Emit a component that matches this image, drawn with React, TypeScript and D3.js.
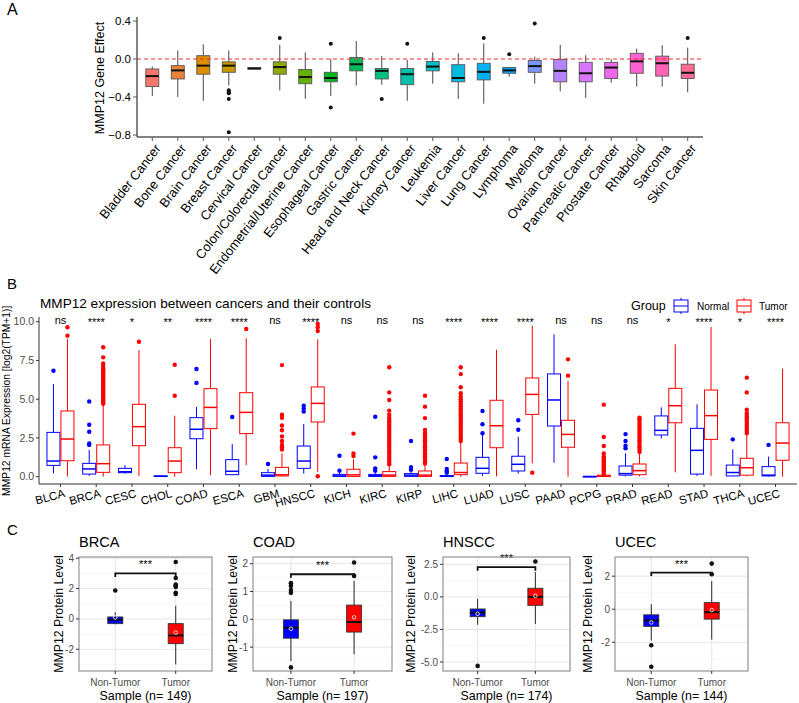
import React from 'react'
import * as d3 from 'd3'

const FONT = '"Liberation Sans", Arial, Helvetica, sans-serif'

// ---------- Panel A: MMP12 gene effect per lineage ----------
const aCancers = [
  'Bladder Cancer', 'Bone Cancer', 'Brain Cancer', 'Breast Cancer', 'Cervical Cancer',
  'Colon/Colorectal Cancer', 'Endometrial/Uterine Cancer', 'Esophageal Cancer', 'Gastric Cancer',
  'Head and Neck Cancer', 'Kidney Cancer', 'Leukemia', 'Liver Cancer', 'Lung Cancer', 'Lymphoma',
  'Myeloma', 'Ovarian Cancer', 'Pancreatic Cancer', 'Prostate Cancer', 'Rhabdoid', 'Sarcoma', 'Skin Cancer',
]
// [lower whisker, q1, median, q3, upper whisker]
const aStats = [
  [-0.39, -0.29, -0.18, -0.105, -0.08],
  [-0.4, -0.21, -0.12, -0.07, 0.09],
  [-0.44, -0.16, -0.07, 0.035, 0.155],
  [-0.28, -0.14, -0.07, -0.03, 0.09],
  [-0.11, -0.105, -0.1, -0.092, -0.085],
  [-0.33, -0.16, -0.085, -0.03, 0.15],
  [-0.42, -0.26, -0.19, -0.11, 0.07],
  [-0.39, -0.24, -0.2, -0.14, 0.0],
  [-0.28, -0.125, -0.055, 0.015, 0.19],
  [-0.27, -0.21, -0.125, -0.1, 0.03],
  [-0.44, -0.27, -0.16, -0.1, -0.01],
  [-0.26, -0.125, -0.08, -0.025, 0.07],
  [-0.42, -0.24, -0.2, -0.06, 0.06],
  [-0.47, -0.22, -0.135, -0.045, 0.165],
  [-0.185, -0.15, -0.12, -0.09, -0.09],
  [-0.26, -0.14, -0.075, -0.015, 0.025],
  [-0.34, -0.24, -0.125, -0.005, 0.15],
  [-0.41, -0.24, -0.15, -0.035, 0.04],
  [-0.25, -0.205, -0.09, -0.035, 0.0],
  [-0.29, -0.15, -0.025, 0.06, 0.11],
  [-0.29, -0.18, -0.045, 0.03, 0.145],
  [-0.35, -0.205, -0.145, -0.055, 0.12],
]
const aOutliers = [
  [], [], [], [-0.33, -0.35, -0.36, -0.42, -0.77], [], [0.22], [], [0.16, -0.51], [], [-0.42],
  [0.16], [], [], [0.22], [0.05], [0.375], [], [], [], [], [], [0.22],
]
const aTicks = [-0.8, -0.4, 0, 0.4]

// ---------- Panel B: TCGA tumour vs normal ----------
const bCancers = [
  'BLCA', 'BRCA', 'CESC', 'CHOL', 'COAD', 'ESCA', 'GBM', 'HNSCC', 'KICH', 'KIRC', 'KIRP',
  'LIHC', 'LUAD', 'LUSC', 'PAAD', 'PCPG', 'PRAD', 'READ', 'STAD', 'THCA', 'UCEC',
]
const bSig = [
  'ns', '****', '*', '**', '****', '****', 'ns', '****', 'ns', 'ns', 'ns',
  '****', '****', '****', 'ns', 'ns', 'ns', '*', '****', '*', '****',
]
const bNormal = [
  [0.22, 0.73, 1.01, 2.86, 5.98],
  [0.05, 0.17, 0.5, 0.86, 1.72],
  [0.2, 0.26, 0.32, 0.54, 0.75],
  [0, 0.01, 0.03, 0.05, 0.06],
  [0.48, 2.45, 3.06, 3.81, 4.5],
  [0.1, 0.13, 0.35, 1.1, 2.1],
  [0, 0.02, 0.1, 0.26, 0.5],
  [0.2, 0.54, 1.01, 1.98, 3.4],
  [0, 0.02, 0.05, 0.15, 0.3],
  [0, 0.02, 0.06, 0.15, 0.33],
  [0, 0.02, 0.1, 0.2, 0.35],
  [0, 0.01, 0.03, 0.08, 0.18],
  [0.05, 0.22, 0.54, 1.25, 2.69],
  [0.2, 0.37, 0.8, 1.32, 2.58],
  [0.9, 3.27, 4.95, 6.63, 9.18],
  [0, 0, 0.01, 0.02, 0.03],
  [0.02, 0.1, 0.2, 0.69, 1.51],
  [2.47, 2.69, 2.99, 3.92, 4.47],
  [0.05, 0.17, 1.7, 3.12, 4.67],
  [0.02, 0.05, 0.27, 0.75, 1.77],
  [0.02, 0.05, 0.1, 0.65, 1.29],
]
const bTumor = [
  [0, 1.03, 2.43, 4.24, 8.9],
  [0, 0.28, 0.84, 2.05, 4.63],
  [0.05, 2.0, 3.23, 4.67, 8.17],
  [0, 0.26, 1.01, 1.87, 3.94],
  [0.1, 3.1, 4.47, 5.68, 8.88],
  [0.75, 2.78, 4.15, 5.42, 8.93],
  [0, 0.05, 0.12, 0.6, 1.5],
  [0.32, 3.53, 4.73, 5.79, 8.86],
  [0, 0.02, 0.12, 0.48, 1.12],
  [0, 0.02, 0.1, 0.33, 0.75],
  [0, 0.02, 0.1, 0.37, 0.75],
  [0, 0.13, 0.27, 0.88, 2.22],
  [0.02, 1.87, 3.29, 4.93, 8.19],
  [0.86, 4.02, 5.31, 6.37, 9.74],
  [0, 1.9, 2.73, 3.64, 6.17],
  [0, 0.01, 0.03, 0.1, 0.15],
  [0.02, 0.13, 0.39, 0.82, 1.5],
  [0.28, 3.48, 4.58, 5.7, 8.54],
  [0.05, 2.41, 3.94, 5.59, 9.66],
  [0.02, 0.1, 0.58, 1.19, 2.73],
  [0, 1.06, 2.17, 3.48, 6.97],
]
const bNormalOut = [
  [6.84], [2.05, 2.15, 2.9, 3.35, 4.85], [], [], [6.05, 6.95], [3.85], [0.82], [4.2, 4.4, 4.58],
  [0.39, 1.35], [0.39, 0.54, 1.25, 3.87], [0.45, 0.62, 2.3], [0.26, 0.35, 0.5, 1.14],
  [2.8, 3.38, 4.24], [3.03, 3.64], [], [], [1.83, 2.0, 2.3, 2.75], [], [], [2.41], [2.05],
]
const bTumorOut = [
  [9.1, 9.64],
  [4.7, 4.8, 4.9, 5.0, 5.1, 5.2, 5.3, 5.4, 5.5, 5.6, 5.7, 5.8, 5.9, 6.0, 6.1, 6.2, 6.3, 6.4, 6.5, 6.6, 6.7, 6.8, 6.9, 7.0, 7.15, 7.3, 7.7, 8.35],
  [8.71],
  [5.22, 7.22],
  [],
  [9.53],
  [1.75, 1.9, 2.05, 2.3, 2.6, 3.0, 3.3, 3.8, 4.0, 7.2],
  [0.03, 9.4, 9.64, 9.85],
  [1.33, 1.5, 2.78],
  [0.8, 0.95, 1.1, 1.25, 1.4, 1.55, 1.7, 1.85, 2.0, 2.15, 2.3, 2.45, 2.6, 2.75, 2.9, 3.05, 3.2, 3.35, 3.5, 3.65, 3.8, 4.0, 4.26, 4.95, 5.44, 7.06],
  [0.85, 1.0, 1.15, 1.3, 1.45, 1.6, 1.75, 1.9, 2.05, 2.2, 2.35, 2.5, 2.65, 2.8, 3.01, 3.78, 4.52, 5.23],
  [2.3, 2.45, 2.6, 2.75, 2.9, 3.05, 3.2, 3.35, 3.5, 3.65, 3.8, 3.95, 4.1, 4.25, 4.4, 4.55, 4.7, 4.85, 5.0, 5.16, 5.38, 5.77, 6.62, 7.06],
  [],
  [0.26],
  [6.52, 7.57],
  [0.2, 0.3, 0.4, 0.5, 0.6, 0.7, 0.8, 0.9, 1.0, 1.1, 1.2, 1.3, 1.5, 1.98, 2.56, 4.65],
  [1.6, 1.75, 1.9, 2.05, 2.2, 2.35, 2.5, 2.65, 2.8, 2.95, 3.1, 3.25, 3.4, 3.55, 3.7, 3.81],
  [],
  [],
  [2.8, 2.95, 3.1, 3.25, 3.4, 3.55, 3.7, 3.82, 3.94, 4.1, 4.32, 5.44, 6.39],
  [],
]
const bTicks = [0, 2.5, 5, 7.5, 10]
const bGroups = ['Normal', 'Tumor']

// ---------- Panel C: CPTAC protein level ----------
const cNames = ['BRCA', 'COAD', 'HNSCC', 'UCEC']
const cSampleN = [149, 197, 174, 144]
const cSamples = ['Non-Tumor', 'Tumor']
const cTicks = [[-2, 0, 2, 4], [-1, 0, 1, 2], [-5, -2.5, 0, 2.5], [-2, 0, 2]]
const cTickLabels = [['-2', '0', '2', '4'], ['-1', '0', '1', '2'], ['-5.0', '-2.5', '0.0', '2.5'], ['-2', '0', '2']]
const cDomains = [[-3.43, 4.08], [-1.86, 2.24], [-5.69, 3.06], [-3.74, 3.16]]
const cNonTumor = [
  [-0.35, -0.31, -0.05, 0.13, 0.43],
  [-1.5, -0.68, -0.3, -0.02, 0.66],
  [-2.14, -1.52, -1.21, -0.93, -0.15],
  [-1.9, -1.04, -0.68, -0.34, 0.3],
]
const cTumor = [
  [-2.99, -1.63, -1.09, -0.31, 0.87],
  [-1.26, -0.46, -0.1, 0.51, 1.38],
  [-2.08, -0.65, 0.0, 0.66, 1.9],
  [-1.84, -0.6, -0.18, 0.4, 1.7],
]
const cNonTumorOut = [[1.87], [0.95, 1.05, 1.2, 1.3, -1.73], [-5.3], [-2.18, -3.48]]
const cTumorOut = [[1.65, 1.72, 2.1, 2.2, 2.27, 2.7, 3.75], [1.56, 2.04], [2.72], [2.12, 2.76]]
const cNonTumorMean = [0.1, -0.34, -1.3, -0.8]
const cTumorMean = [-0.9, 0.07, 0.08, -0.05]
const cBracket = [3.0, 1.62, 2.28, 2.22]
const cSig = ['***', '***', '***', '***']

// layout of the small multiples (pixels)
const cPanels = [
  { left: 79, right: 212, titleX: 60 },
  { left: 253, right: 392, titleX: 234 },
  { left: 443, right: 570, titleX: 412 },
  { left: 615, right: 748, titleX: 589 },
]

// ggplot2 hue_pal(): polar LUV, l = 65, c = 100
function luvHex(h: number, c: number, l: number) {
  const hr = (h * Math.PI) / 180
  const u = c * Math.cos(hr)
  const v = c * Math.sin(hr)
  const Xn = 95.047, Yn = 100, Zn = 108.883
  const Y = l > 8 ? Yn * Math.pow((l + 16) / 116, 3) : (Yn * l) / 903.3
  const den = Xn + 15 * Yn + 3 * Zn
  const up = u / (13 * l) + (4 * Xn) / den
  const vp = v / (13 * l) + (9 * Yn) / den
  const X = (Y * 9 * up) / (4 * vp)
  const Z = (Y * (12 - 3 * up - 20 * vp)) / (4 * vp)
  const x = X / 100, y = Y / 100, z = Z / 100
  const lin = [
    3.2404542 * x - 1.5371385 * y - 0.4985314 * z,
    -0.969266 * x + 1.8760108 * y + 0.041556 * z,
    0.0556434 * x - 0.2040259 * y + 1.0572252 * z,
  ]
  const g = lin.map(t => {
    const s = t <= 0.0031308 ? 12.92 * t : 1.055 * Math.pow(t, 1 / 2.4) - 0.055
    return Math.round(Math.max(0, Math.min(1, s)) * 255)
  })
  return d3.rgb(g[0], g[1], g[2]).formatHex()
}
const hue = (i: number, n: number) => luvHex(15 + (360 / n) * i, 100, 65)

type BoxProps = {
  cx: number
  w: number
  s: number[]
  y: (v: number) => number
  fill: string
  stroke: string
  whisker: string
  median: string
  medW: number
  lw?: number
}
function Box({ cx, w, s, y, fill, stroke, whisker, median, medW, lw = 1 }: BoxProps) {
  const [lo, q1, med, q3, hi] = s
  const top = y(q3)
  const h = Math.max(0.6, y(q1) - y(q3))
  return (
    <g>
      <line x1={cx} x2={cx} y1={y(hi)} y2={top} stroke={whisker} strokeWidth={lw} />
      <line x1={cx} x2={cx} y1={y(q1)} y2={y(lo)} stroke={whisker} strokeWidth={lw} />
      <rect x={cx - w / 2} y={top} width={w} height={h} fill={fill} stroke={stroke} strokeWidth={lw} />
      <line x1={cx - w / 2} x2={cx + w / 2} y1={y(med)} y2={y(med)} stroke={median} strokeWidth={medW} />
    </g>
  )
}

function PanelA() {
  const x = d3.scalePoint<string>().domain(aCancers).range([137, 703]).padding(0.6)
  const y = d3.scaleLinear().domain([-0.8, 0.4]).range([135, 21])
  const axisCol = '#5a5a5a'
  return (
    <g fontFamily={FONT}>
      <text x={7} y={15} fontSize={16}>A</text>
      <text transform={`translate(104,${y(-0.2)}) rotate(-90)`} textAnchor="middle" fontSize={12.5}>
        MMP12 Gene Effect
      </text>
      {aTicks.map(t => (
        <g key={t}>
          <line x1={133} x2={137} y1={y(t)} y2={y(t)} stroke={axisCol} />
          <text x={131} y={y(t)} dy="0.35em" textAnchor="end" fontSize={11.5}>{d3.format('.1f')(t)}</text>
        </g>
      ))}
      {aCancers.map((c, i) => {
        const cx = x(c)!
        return (
          <g key={c}>
            <Box cx={cx} w={13} s={aStats[i]} y={y} fill={hue(i, aCancers.length)} stroke="#555"
              whisker="#333" median="#111" medW={2} lw={0.9} />
            {aOutliers[i].map((v, j) => <circle key={j} cx={cx} cy={y(v)} r={2} fill="#111" />)}
            <line x1={cx} x2={cx} y1={137} y2={141} stroke={axisCol} />
            <text transform={`translate(${cx + 2},${143}) rotate(-52)`} textAnchor="end" dy="0.7em" fontSize={13}>
              {c}
            </text>
          </g>
        )
      })}
      <line x1={137} x2={703} y1={y(0)} y2={y(0)} stroke="#ff2a2a" strokeDasharray="4,3" strokeWidth={1} />
      <line x1={137} x2={137} y1={17} y2={137} stroke={axisCol} strokeWidth={1.5} />
      <line x1={137} x2={703} y1={137} y2={137} stroke={axisCol} strokeWidth={1.5} />
    </g>
  )
}

function PanelB() {
  const x = d3.scalePoint<string>().domain(bCancers).range([39, 797]).padding(0.6)
  const y = d3.scaleLinear().domain([0, 10]).range([476.7, 321.7])
  const col = d3.scaleOrdinal<string>().domain(bGroups).range(['#0000ff', '#ff0000'])
  const off = 7
  const axisCol = '#333'
  return (
    <g fontFamily={FONT}>
      <text x={7} y={289} fontSize={15}>B</text>
      <text x={40} y={308} fontSize={13.6}>MMP12 expression between cancers and their controls</text>
      <text transform={`translate(10,${y(4.9)}) rotate(-90)`} textAnchor="middle" fontSize={10.3}>
        MMP12 mRNA Expression [log2(TPM+1)]
      </text>
      {/* legend */}
      <text x={631} y={306} dy="0.35em" fontSize={12.5}>Group</text>
      {bGroups.map((g, i) => {
        const kx = i === 0 ? 674 : 737
        const tx = i === 0 ? 697 : 759
        return (
          <g key={g}>
            <line x1={kx + 7} x2={kx + 7} y1={298} y2={314} stroke={col(g)} />
            <rect x={kx} y={300} width={14} height={12} fill="#fff" stroke={col(g)} />
            <line x1={kx} x2={kx + 14} y1={306} y2={306} stroke={col(g)} />
            <text x={tx} y={306} dy="0.35em" fontSize={10}>{g}</text>
          </g>
        )
      })}
      {bTicks.map(t => (
        <g key={t}>
          <line x1={36} x2={39} y1={y(t)} y2={y(t)} stroke={axisCol} />
          <text x={34} y={y(t)} dy="0.35em" textAnchor="end" fontSize={10.5} fill="#4d4d4d">
            {d3.format('.1f')(t)}
          </text>
        </g>
      ))}
      {bCancers.map((c, i) => {
        const cx = x(c)!
        return (
          <g key={c}>
            <Box cx={cx - off} w={13} s={bNormal[i]} y={y} fill="#fff" stroke={col('Normal')}
              whisker={col('Normal')} median={col('Normal')} medW={1.5} />
            <Box cx={cx + off} w={13} s={bTumor[i]} y={y} fill="#fff" stroke={col('Tumor')}
              whisker={col('Tumor')} median={col('Tumor')} medW={1.5} />
            {bNormalOut[i].map((v, j) => <circle key={'n' + j} cx={cx - off} cy={y(v)} r={2.2} fill={col('Normal')} />)}
            {bTumorOut[i].map((v, j) => <circle key={'t' + j} cx={cx + off} cy={y(v)} r={2.2} fill={col('Tumor')} />)}
            <text x={cx} y={bSig[i] === 'ns' ? 320 : 322} dy="0.35em" textAnchor="middle"
              fontSize={bSig[i] === 'ns' ? 11 : 11}>{bSig[i]}</text>
            <line x1={cx} x2={cx} y1={484} y2={487} stroke={axisCol} />
            <text transform={`translate(${cx + 3},${489}) rotate(-15)`} textAnchor="end" dy="0.7em" fontSize={11.5}>
              {c}
            </text>
          </g>
        )
      })}
      <line x1={39} x2={39} y1={317} y2={484} stroke={axisCol} />
      <line x1={39} x2={797} y1={484} y2={484} stroke={axisCol} />
    </g>
  )
}

function PanelC() {
  const top = 557
  const bottom = 671
  return (
    <g fontFamily={FONT}>
      <text x={7} y={535} fontSize={15}>C</text>
      {cNames.map((name, k) => {
        const p = cPanels[k]
        const x = d3.scalePoint<string>().domain(cSamples).range([p.left, p.right]).padding(0.6)
        const y = d3.scaleLinear().domain(cDomains[k]).range([bottom, top])
        const ticks = cTicks[k]
        const step = ticks[1] - ticks[0]
        const minor = [ticks[0] - step / 2, ...ticks.map(t => t + step / 2)].filter(
          v => v > cDomains[k][0] && v < cDomains[k][1],
        )
        const fills = ['#0000ff', '#ff0000']
        const stats = [cNonTumor[k], cTumor[k]]
        const outs = [cNonTumorOut[k], cTumorOut[k]]
        const means = [cNonTumorMean[k], cTumorMean[k]]
        const x0 = x('Non-Tumor')!
        const x1 = x('Tumor')!
        const by = y(cBracket[k])
        return (
          <g key={name}>
            <text x={p.left} y={547} fontSize={14.6}>{name}</text>
            <rect x={p.left} y={top} width={p.right - p.left} height={bottom - top} fill="#fff" />
            {minor.map(v => (
              <line key={'m' + v} x1={p.left} x2={p.right} y1={y(v)} y2={y(v)} stroke="#f2f2f2" strokeWidth={0.6} />
            ))}
            {ticks.map(v => (
              <line key={'g' + v} x1={p.left} x2={p.right} y1={y(v)} y2={y(v)} stroke="#e6e6e6" strokeWidth={1} />
            ))}
            {cSamples.map(s => (
              <line key={s} x1={x(s)!} x2={x(s)!} y1={top} y2={bottom} stroke="#e6e6e6" strokeWidth={1} />
            ))}
            {cSamples.map((s, j) => (
              <g key={'b' + s}>
                <Box cx={x(s)!} w={15} s={stats[j]} y={y} fill={fills[j]} stroke="#333" whisker="#111"
                  median="#111" medW={2} lw={0.9} />
                {outs[j].map((v, i) => <circle key={i} cx={x(s)!} cy={y(v)} r={2.3} fill="#111" />)}
                <circle cx={x(s)!} cy={y(means[j])} r={1.8} fill="none" stroke="#fff" strokeWidth={0.8} />
              </g>
            ))}
            <path d={`M${x0},${by + 3.5}V${by}H${x1}V${by + 3.5}`} fill="none" stroke="#111" strokeWidth={1.8} />
            <text x={(x0 + x1) / 2} y={by - 5} textAnchor="middle" fontSize={11}>{cSig[k]}</text>
            <rect x={p.left} y={top} width={p.right - p.left} height={bottom - top} fill="none" stroke="#7f7f7f" />
            {ticks.map((v, i) => (
              <g key={'t' + v}>
                <line x1={p.left - 3} x2={p.left} y1={y(v)} y2={y(v)} stroke="#333" />
                <text x={p.left - 5} y={y(v)} dy="0.35em" textAnchor="end" fontSize={10} fill="#4d4d4d">
                  {cTickLabels[k][i]}
                </text>
              </g>
            ))}
            {cSamples.map(s => (
              <g key={'x' + s}>
                <line x1={x(s)!} x2={x(s)!} y1={bottom} y2={bottom + 3} stroke="#333" />
                <text x={x(s)!} y={685.5} textAnchor="middle" fontSize={10} fill="#4d4d4d">{s}</text>
              </g>
            ))}
            <text x={(p.left + p.right) / 2} y={699.5} textAnchor="middle" fontSize={12.4}>
              {`Sample (n= ${cSampleN[k]})`}
            </text>
            <text transform={`translate(${p.titleX + 3},${(top + bottom) / 2}) rotate(-90)`} textAnchor="middle"
              fontSize={12.3}>
              MMP12 Protein Level
            </text>
          </g>
        )
      })}
    </g>
  )
}

export default function App() {
  return (
    <div style={{ position: 'absolute', left: 0, top: 0 }}>
      <svg width={799} height={703} style={{ display: 'block', background: '#fff' }}>
        <PanelA />
        <PanelB />
        <PanelC />
      </svg>
    </div>
  )
}
